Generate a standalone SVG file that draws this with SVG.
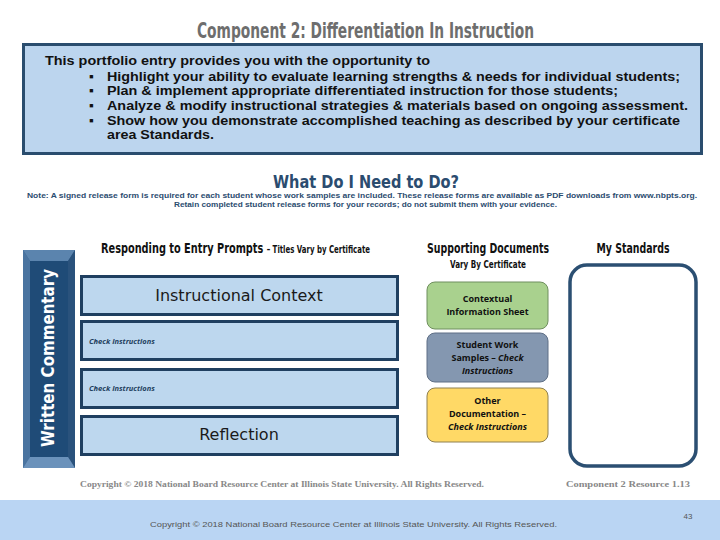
<svg xmlns="http://www.w3.org/2000/svg" width="720" height="540" viewBox="0 0 720 540">
<style>
.cond{font-family:"DejaVu Sans Condensed","DejaVu Sans","Liberation Sans",sans-serif;font-stretch:condensed;font-weight:bold}
.arialb{font-family:"Liberation Sans",Arial,sans-serif;font-weight:bold}
.prompt{fill:#bdd7ee;stroke:#1f3f60;stroke-width:3}
.big{font-family:"DejaVu Sans","Liberation Sans",sans-serif;font-size:16px;fill:#1a1a1a;text-anchor:middle}
.chk{font-family:"Open Sans","Liberation Sans",sans-serif;font-style:italic;font-weight:bold;font-size:7.5px;fill:#1f3f60}
.doc{font-family:"Open Sans","Liberation Sans",sans-serif;font-weight:bold;font-size:9px;fill:#111;text-anchor:middle}
.foot{font-family:"Liberation Serif","Times New Roman",serif;font-weight:bold;font-size:7.5px;fill:#888}
</style>
<rect width="720" height="540" fill="#ffffff"/>
<g id="title">
<text class="cond" x="197" y="38" font-size="22" fill="#6e6e6e" textLength="337" lengthAdjust="spacingAndGlyphs">Component 2: Differentiation In Instruction</text>
</g>
<g id="intro">
<rect x="23.5" y="44.5" width="678" height="109" fill="#bcd5ee" stroke="#2a4d6e" stroke-width="3"/>
<g class="arialb" font-size="13.5" fill="#111">
<text x="45" y="65" textLength="385" lengthAdjust="spacingAndGlyphs">This portfolio entry provides you with the opportunity to</text>
<text x="89" y="81">▪</text>
<text x="107" y="81" textLength="573" lengthAdjust="spacingAndGlyphs">Highlight your ability to evaluate learning strengths &amp; needs for individual students;</text>
<text x="89" y="95">▪</text>
<text x="107" y="95" textLength="511" lengthAdjust="spacingAndGlyphs">Plan &amp; implement appropriate differentiated instruction for those students;</text>
<text x="89" y="110">▪</text>
<text x="107" y="110" textLength="581" lengthAdjust="spacingAndGlyphs">Analyze &amp; modify instructional strategies &amp; materials based on ongoing assessment.</text>
<text x="89" y="125">▪</text>
<text x="107" y="125" textLength="573" lengthAdjust="spacingAndGlyphs">Show how you demonstrate accomplished teaching as described by your certificate</text>
<text x="107" y="139" textLength="107" lengthAdjust="spacingAndGlyphs">area Standards.</text>
</g>
</g>
<g id="heading">
<text class="cond" x="273" y="188" font-size="17" fill="#2b4c6f" textLength="186" lengthAdjust="spacingAndGlyphs">What Do I Need to Do?</text>
<g font-family="'Liberation Sans',Arial,sans-serif" font-weight="bold" font-size="7.5" fill="#2b4c6f">
<text x="27" y="198" textLength="670" lengthAdjust="spacingAndGlyphs">Note:  A signed release form is required for each student whose work samples are included. These release forms are available as PDF downloads from www.nbpts.org.</text>
<text x="174" y="207" textLength="383" lengthAdjust="spacingAndGlyphs">Retain completed student release forms for your records; do not submit them with your evidence.</text>
</g>
</g>
<g id="written-commentary">
<rect x="23" y="250" width="52" height="218" fill="#3a6591"/>
<polygon points="23,250 75,250 68,261 30,261" fill="#5b84ae"/>
<polygon points="23,250 30,261 30,457 23,468" fill="#4a74a0"/>
<polygon points="75,250 68,261 68,457 75,468" fill="#2a527c"/>
<polygon points="23,468 30,457 68,457 75,468" fill="#6b92bb"/>
<rect x="30" y="261" width="38" height="196" fill="#1f4b77"/>
<text transform="translate(54,358) rotate(-90)" text-anchor="middle" font-family="'DejaVu Sans','Liberation Sans',sans-serif" font-weight="bold" font-size="18" fill="#ffffff" textLength="178" lengthAdjust="spacingAndGlyphs">Written Commentary</text>
</g>
<g id="prompts">
<text class="cond" x="101" y="253" font-size="14" fill="#111" textLength="269" lengthAdjust="spacingAndGlyphs">Responding to Entry Prompts <tspan font-size="10">– Titles Vary by Certificate</tspan></text>
</g>
<g id="instructional-context">
<rect class="prompt" x="81.5" y="276.5" width="316" height="38"/>
<text class="big" x="239" y="301">Instructional Context</text>
</g>
<g id="check-1">
<rect class="prompt" x="81.5" y="321.5" width="316" height="38"/>
<text class="chk" x="89" y="344">Check Instructions</text>
</g>
<g id="check-2">
<rect class="prompt" x="81.5" y="369.5" width="316" height="38"/>
<text class="chk" x="89" y="391">Check Instructions</text>
</g>
<g id="reflection">
<rect class="prompt" x="81.5" y="416.5" width="316" height="38"/>
<text class="big" x="239" y="440">Reflection</text>
</g>
<g id="supporting-header">
<text class="cond" x="488" y="253" font-size="14" fill="#111" text-anchor="middle" textLength="122" lengthAdjust="spacingAndGlyphs">Supporting Documents</text>
<text class="cond" x="488" y="268" font-size="10" fill="#111" text-anchor="middle" textLength="76" lengthAdjust="spacingAndGlyphs">Vary By Certificate</text>
</g>
<g id="contextual-info">
<rect x="427" y="282" width="121" height="47" rx="8" fill="#a9d18e" stroke="#6f8f5e" stroke-width="1"/>
<text class="doc" x="487.5" y="302">Contextual</text>
<text class="doc" x="487.5" y="315">Information Sheet</text>
</g>
<g id="student-work">
<rect x="427" y="333" width="121" height="49" rx="8" fill="#8497b0" stroke="#5f6f86" stroke-width="1"/>
<text class="doc" x="487.5" y="348">Student Work</text>
<text class="doc" x="487.5" y="361">Samples – <tspan font-style="italic">Check</tspan></text>
<text class="doc" x="487.5" y="374" font-style="italic">Instructions</text>
</g>
<g id="other-doc">
<rect x="427" y="388" width="121" height="54" rx="8" fill="#ffd966" stroke="#8f8050" stroke-width="1"/>
<text class="doc" x="487.5" y="404">Other</text>
<text class="doc" x="487.5" y="417">Documentation –</text>
<text class="doc" x="487.5" y="430" font-style="italic">Check Instructions</text>
</g>
<g id="my-standards">
<text class="cond" x="633" y="253" font-size="14" fill="#111" text-anchor="middle" textLength="73" lengthAdjust="spacingAndGlyphs">My Standards</text>
<rect x="570" y="265" width="126" height="201" rx="17" fill="#ffffff" stroke="#2b4f72" stroke-width="3.5"/>
</g>
<g id="connectors"></g>
<g id="footer">
<text class="foot" x="80" y="487" textLength="404" lengthAdjust="spacingAndGlyphs">Copyright © 2018 National Board Resource Center at Illinois State University.  All Rights Reserved.</text>
<text class="foot" x="566" y="487" fill="#777" textLength="124" lengthAdjust="spacingAndGlyphs">Component 2 Resource 1.13</text>
<rect x="0" y="500" width="720" height="40" fill="#bad5f3"/>
<text x="150" y="527" font-family="'Liberation Sans',Arial,sans-serif" font-size="8" fill="#555" textLength="407" lengthAdjust="spacingAndGlyphs">Copyright © 2018 National Board Resource Center at Illinois State University. All Rights Reserved.</text>
<text x="688" y="519" font-family="'Liberation Sans',Arial,sans-serif" font-size="8" fill="#555" text-anchor="middle">43</text>
</g>
</svg>
